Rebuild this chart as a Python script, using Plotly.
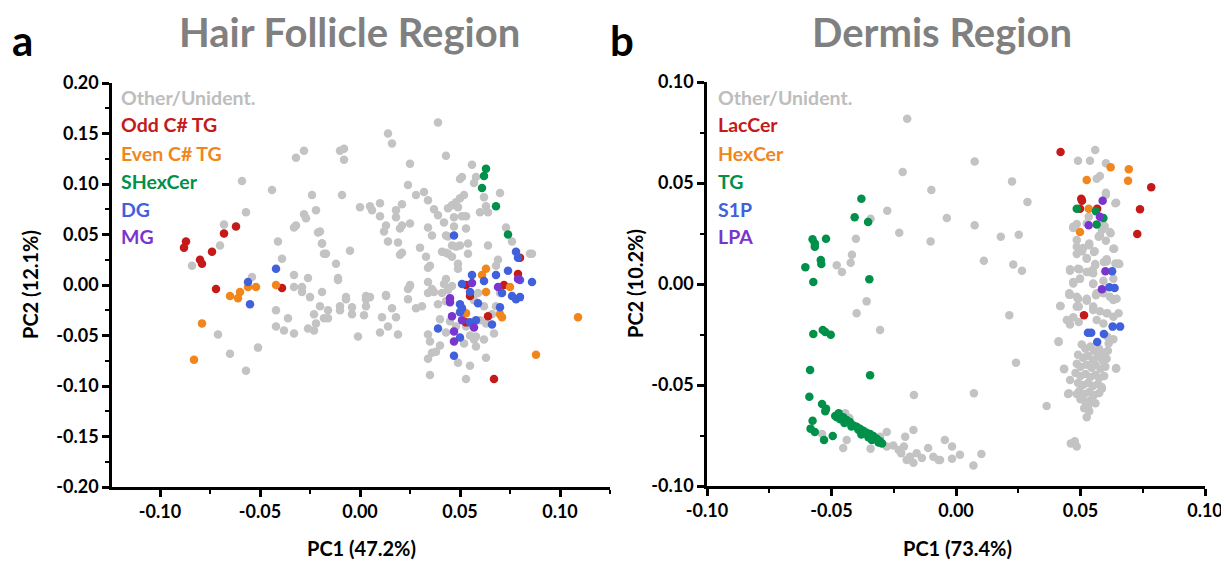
import plotly.graph_objects as go

# ---------------- Panel a : Hair Follicle Region ----------------
hf_other_x = [-0.028,-0.032,-0.059,-0.044,-0.024,-0.057,-0.028,-0.027,-0.022,-0.033,-0.032,-0.068,-0.021,-0.041,-0.019,-0.070,-0.017,-0.039,-0.084,-0.054,-0.033,-0.026,-0.033,-0.029,-0.025,-0.019,
              -0.071,-0.065,-0.057,-0.051,-0.042,-0.036,-0.042,-0.038,-0.033,-0.029,-0.020,-0.023,-0.018,-0.016,-0.026,-0.023,-0.022,-0.016,
              0.039,0.014,0.016,-0.010,-0.008,-0.008,0.043,0.025,0.056,0.058,0.057,0.051,0.050,0.070,0.024,-0.009,0.032,0.028,0.062,0.034,0.052,0.050,0.048,0.046,0.044,0.049,0.063,0.060,0.064,0.000,0.005,0.006,0.010,0.010,0.018,0.021,0.018,0.037,0.039,0.042,0.047,0.051,0.053,0.047,0.053,0.013,0.012,0.021,0.020,0.025,0.034,0.036,0.043,0.044,0.054,0.046,0.048,0.050,0.073,0.076,-0.020,-0.019,-0.018,-0.005,-0.012,-0.011,0.014,0.019,0.020,0.021,0.030,0.033,0.035,0.034,0.041,0.043,0.046,0.044,0.049,0.049,0.054,0.064,0.069,0.068,0.085,0.086,0.025,0.024,0.034,0.036,0.043,0.042,0.003,0.013,-0.007,
              -0.011,-0.010,-0.010,-0.007,-0.004,-0.004,-0.001,0.002,0.003,0.005,0.003,0.010,0.011,0.013,0.014,0.016,0.018,0.019,0.024,0.025,0.028,0.031,0.034,0.034,0.035,0.036,0.037,0.039,0.040,0.041,0.043,0.044,0.046,0.034,0.035,0.038,0.043,0.040,0.049,0.053,0.055,0.063,0.058,0.062,0.067,0.057,0.045,0.048,0.053,0.055,0.058,0.052,0.060,0.063,0.066,0.068,0.070,0.059,0.057,0.062]
hf_other_y = [0.133,0.126,0.103,0.094,0.089,0.072,0.070,0.066,0.074,0.057,0.059,0.060,0.052,0.043,0.041,0.039,0.031,0.026,0.019,0.008,0.010,0.007,-0.002,-0.007,-0.012,-0.007,
              -0.049,-0.068,-0.085,-0.062,-0.025,-0.033,-0.041,-0.045,-0.048,-0.002,-0.021,-0.029,-0.033,-0.033,-0.043,-0.045,-0.038,-0.025,
              0.161,0.150,0.140,0.133,0.135,0.124,0.128,0.120,0.119,0.107,0.101,0.107,0.105,0.091,0.099,0.089,0.092,0.089,0.087,0.084,0.089,0.086,0.082,0.079,0.076,0.077,0.078,0.072,0.072,0.077,0.078,0.074,0.081,0.068,0.074,0.080,0.067,0.075,0.069,0.062,0.067,0.068,0.068,0.058,0.056,0.059,0.053,0.059,0.056,0.061,0.057,0.049,0.049,0.048,0.041,0.039,0.038,0.039,0.057,0.043,0.053,0.041,0.031,0.034,0.021,0.007,0.043,0.042,0.030,0.032,0.037,0.028,0.019,0.017,0.033,0.032,0.028,0.031,0.021,0.016,0.031,0.039,0.025,0.019,0.031,0.031,0.000,-0.004,0.003,-0.004,0.006,0.001,-0.011,-0.011,-0.012,
              0.005,-0.021,-0.025,-0.014,-0.022,-0.029,-0.051,-0.030,-0.014,-0.012,-0.021,-0.047,-0.032,-0.010,-0.041,-0.023,-0.032,-0.049,-0.014,-0.001,-0.023,-0.021,-0.008,-0.049,-0.056,-0.067,-0.007,-0.019,-0.034,-0.008,-0.016,-0.005,-0.001,-0.073,-0.089,-0.066,-0.047,-0.060,-0.077,-0.093,-0.080,-0.072,-0.061,-0.054,-0.048,-0.054,-0.036,-0.041,-0.041,-0.050,-0.051,-0.058,-0.035,-0.038,-0.029,-0.021,-0.008,-0.008,-0.015,-0.021]

hf_odd_x = [-0.062,-0.068,-0.074,-0.080,-0.079,-0.087,-0.088,-0.072,-0.039,0.080,0.079,0.053,0.072,0.055,0.053,0.064,0.067]
hf_odd_y = [0.058,0.051,0.033,0.025,0.021,0.043,0.037,-0.004,-0.003,0.027,0.011,0.000,0.000,-0.011,-0.037,-0.031,-0.093]

hf_even_x = [-0.042,-0.052,-0.056,-0.060,-0.065,-0.061,-0.079,-0.083,0.063,0.061,0.075,0.063,0.053,0.070,0.071,0.088,0.109]
hf_even_y = [0.000,-0.002,-0.002,-0.007,-0.011,-0.013,-0.038,-0.074,0.016,0.010,-0.002,-0.007,-0.028,-0.029,-0.032,-0.069,-0.032]

hf_shex_x = [0.063,0.062,0.061,0.068,0.074]
hf_shex_y = [0.115,0.108,0.096,0.078,0.050]

hf_dg_x = [-0.056,-0.042,-0.055,0.047,0.078,0.079,0.056,0.068,0.074,0.080,0.086,0.062,0.051,0.071,0.076,0.080,0.055,0.039,0.047,0.050,0.050,0.051,0.050,0.055,0.058,0.059,0.066,0.070,0.078]
hf_dg_y = [0.003,0.016,-0.019,0.049,0.033,0.027,0.010,0.010,0.014,0.005,0.003,0.004,0.001,-0.008,-0.011,-0.012,-0.007,-0.043,-0.070,-0.052,-0.019,-0.023,-0.027,-0.037,-0.035,-0.018,-0.039,-0.022,-0.014]

hf_mg_x = [0.079,0.056,0.069,0.045,0.047,0.047,0.046,0.045,0.051,0.057]
hf_mg_y = [0.006,0.002,-0.002,-0.013,-0.056,-0.046,-0.031,-0.017,-0.035,-0.042]

# ---------------- Panel b : Dermis Region ----------------
dm_other_x = [-0.0196,-0.0214,-0.0099,-0.0276,-0.0343,-0.0228,-0.0102,-0.0402,-0.0418,-0.0423,-0.0479,-0.0458,
              -0.0359,-0.0399,-0.0305,-0.0538,-0.0453,-0.0439,-0.0445,-0.0428,-0.0343,-0.0278,-0.0305,
              -0.0278,-0.0252,-0.0230,-0.0209,-0.0204,-0.0185,-0.0171,-0.0171,-0.0169,-0.0158,-0.0137,-0.0112,-0.0091,-0.0070,-0.0220,-0.0198,
              -0.0045,-0.0016,0.0016,-0.0016,0.0070,0.0102,-0.0064,0.0072,0.0214,0.0241,0.0364,0.0461,0.0477,0.0485,
              0.0559,0.0490,0.0538,0.0602,0.0565,0.0578,0.0602,0.0643,0.0075,0.0225,0.0287,-0.0037,0.0075,0.0180,0.0252,0.0112,0.0230,0.0265,
              0.0471,0.0485,0.0533,0.0589,0.0578,0.0621,0.0602,0.0632,0.0485,0.0511,0.0535,0.0485,0.0554,0.0525,0.0605,0.0656,0.0559,0.0458,0.0490,0.0525,0.0551,0.0594,0.0632,0.0471,0.0498,0.0551,0.0592,0.0455,0.0485,0.0525,0.0565,
              0.0420,0.0458,0.0412,0.0434,0.0458,0.0453,0.0530,0.0643,0.0640,
              0.0458,0.0495,0.0471,0.0498,0.0533,0.0549,0.0559,0.0605,0.0653,0.0455,0.0490,0.0525,0.0551,0.0562,0.0592,0.0618,0.0645,0.0485,0.0551,0.0578,0.0608,0.0632,0.0471,0.0493,0.0565,0.0592,0.0608,0.0632,0.0613,
              0.0471,0.0525,0.0586,0.0602,0.0640,0.0525,0.0605,0.0557,0.0635,0.0506,0.0485,0.0535,0.0573,0.0618,0.0597,
              0.0505,0.0520,0.0540,0.0555,0.0575,0.0595,0.0610,0.0490,0.0510,0.0530,0.0550,0.0570,0.0590,0.0605,0.0485,0.0500,0.0525,0.0545,0.0560,0.0580,0.0600,0.0480,0.0500,0.0520,0.0540,0.0560,0.0575,0.0595,0.0490,0.0510,0.0530,0.0550,0.0570,0.0585,0.0495,0.0515,0.0535,0.0555,0.0575,0.0500,0.0520,0.0540,0.0560,0.0515,0.0535,0.0525,
              0.0445,0.0418,0.0412,0.0434,0.0450,0.0485,0.0530,0.0586,0.0643,0.0493,0.0525,0.0632,0.0653,0.0605,0.0551,0.0458,0.0490]
dm_other_y = [0.0818,0.0554,0.0465,0.0363,0.0323,0.0254,0.0211,0.0224,0.0145,0.0105,0.0093,0.0059,
              -0.0086,-0.0145,-0.0228,-0.0743,-0.0812,-0.0772,-0.0640,-0.0663,-0.0815,-0.0733,-0.0756,
              -0.0805,-0.0799,-0.0822,-0.0805,-0.0756,-0.0855,-0.0885,-0.0723,-0.0550,-0.0838,-0.0861,-0.0812,-0.0855,-0.0871,-0.0838,-0.0871,
              -0.0772,-0.0805,-0.0845,-0.0865,-0.0898,-0.0842,-0.0871,-0.0541,-0.0155,-0.0390,-0.0604,-0.0789,-0.0779,-0.0805,
              0.0663,0.0610,0.0610,0.0598,0.0521,0.0535,0.0452,0.0402,0.0607,0.0508,0.0406,0.0327,0.0291,0.0234,0.0244,0.0115,0.0096,0.0066,
              0.0277,0.0297,0.0333,0.0300,0.0241,0.0251,0.0214,0.0175,0.0185,0.0178,0.0192,0.0149,0.0158,0.0129,0.0119,0.0099,0.0099,0.0066,0.0076,0.0059,0.0053,0.0109,0.0026,0.0010,0.0026,0.0003,0.0016,-0.0046,-0.0063,-0.0073,-0.0046,
              -0.0109,-0.0201,-0.0287,-0.0419,-0.0475,-0.0541,-0.0607,-0.0419,0.0102,
              0.0073,0.0073,0.0003,0.0026,0.0059,0.0069,0.0093,0.0112,0.0102,-0.0053,-0.0073,-0.0079,0.0000,-0.0056,-0.0046,-0.0063,-0.0073,-0.0112,-0.0112,-0.0135,-0.0145,-0.0162,-0.0165,-0.0188,-0.0178,-0.0195,-0.0261,-0.0274,-0.0294,
              0.0284,0.0300,0.0267,0.0442,0.0400,0.0125,0.0122,0.0162,0.0175,0.0162,0.0218,0.0201,0.0234,0.0257,0.0287,
              -0.0300,-0.0320,-0.0310,-0.0330,-0.0320,-0.0340,-0.0330,-0.0350,-0.0365,-0.0355,-0.0375,-0.0360,-0.0380,-0.0370,-0.0395,-0.0410,-0.0400,-0.0415,-0.0400,-0.0420,-0.0410,-0.0440,-0.0455,-0.0445,-0.0460,-0.0450,-0.0465,-0.0455,-0.0490,-0.0500,-0.0490,-0.0505,-0.0495,-0.0510,-0.0530,-0.0545,-0.0535,-0.0550,-0.0540,-0.0570,-0.0585,-0.0575,-0.0590,-0.0615,-0.0630,-0.0660,
              -0.0178,-0.0109,-0.0284,-0.0422,-0.0545,-0.0545,-0.0604,-0.0518,-0.0416,-0.0112,-0.0083,-0.0079,-0.0145,-0.0145,-0.0129,-0.0053,-0.0073]

dm_lac_x = [0.0420,0.0784,0.0503,0.0506,0.0498,0.0567,0.0739,0.0728,0.0514]
dm_lac_y = [0.0653,0.0479,0.0422,0.0412,0.0373,0.0373,0.0370,0.0248,-0.0155]

dm_hex_x = [0.0621,0.0694,0.0691,0.0525,0.0533,0.0498]
dm_hex_y = [0.0578,0.0568,0.0511,0.0515,0.0373,0.0257]

dm_tg_x = [-0.0380,-0.0407,-0.0353,-0.0576,-0.0567,-0.0567,-0.0522,-0.0543,-0.0541,-0.0605,-0.0573,-0.0348,
           -0.0573,-0.0535,-0.0525,-0.0503,-0.0586,-0.0345,-0.0589,-0.0538,-0.0522,-0.0525,-0.0576,-0.0584,-0.0567,-0.0530,-0.0495,
           -0.0485,-0.0471,-0.0453,-0.0439,-0.0426,-0.0412,-0.0399,-0.0386,-0.0372,-0.0359,-0.0345,-0.0332,-0.0318,-0.0305,-0.0297,
           -0.0465,-0.0448,-0.0420,-0.0392,-0.0380,-0.0352,-0.0338,-0.0311,-0.0478,
           0.0485,0.0562,0.0592,0.0565]
dm_tg_y = [0.0422,0.0330,0.0307,0.0221,0.0201,0.0185,0.0224,0.0119,0.0099,0.0083,0.0010,0.0023,
           -0.0248,-0.0228,-0.0238,-0.0251,-0.0426,-0.0452,-0.0558,-0.0594,-0.0617,-0.0630,-0.0677,-0.0716,-0.0733,-0.0772,-0.0752,
           -0.0653,-0.0640,-0.0660,-0.0673,-0.0683,-0.0700,-0.0707,-0.0717,-0.0726,-0.0736,-0.0743,-0.0752,-0.0766,-0.0779,-0.0789,
           -0.0670,-0.0688,-0.0705,-0.0722,-0.0745,-0.0758,-0.0772,-0.0785,-0.0660,
           0.0373,0.0360,0.0327,0.0294]

dm_s1p_x = [0.0627,0.0616,0.0637,0.0530,0.0543,0.0594,0.0567,0.0629,0.0659]
dm_s1p_y = [0.0063,-0.0016,-0.0020,-0.0241,-0.0241,-0.0248,-0.0287,-0.0211,-0.0211]

dm_lpa_x = [0.0589,0.0578,0.0533,0.0600,0.0586]
dm_lpa_y = [0.0412,0.0333,0.0291,0.0063,-0.0026]

# ---------------- labels ----------------
hf_names = ["Other/Unident.", "Odd C# TG", "Even C# TG", "SHexCer", "DG", "MG"]
dm_names = ["Other/Unident.", "LacCer", "HexCer", "TG", "S1P", "LPA"]
colors = ["#c3c3c3", "#c41a1a", "#f0861c", "#00904a", "#4060dc", "#7a35cf"]
text_colors = ["#bdbdbd", "#c41a1a", "#f0861c", "#00904a", "#4060dc", "#7a35cf"]

hf_xticks = [-0.10, -0.05, 0.00, 0.05, 0.10]
hf_xtext = ["-0.10", "-0.05", "0.00", "0.05", "0.10"]
hf_yticks = [-0.20, -0.15, -0.10, -0.05, 0.00, 0.05, 0.10, 0.15, 0.20]
hf_ytext = ["-0.20", "-0.15", "-0.10", "-0.05", "0.00", "0.05", "0.10", "0.15", "0.20"]
dm_xticks = [-0.10, -0.05, 0.00, 0.05, 0.10]
dm_xtext = ["-0.10", "-0.05", "0.00", "0.05", "0.10"]
dm_yticks = [-0.10, -0.05, 0.00, 0.05, 0.10]
dm_ytext = ["-0.10", "-0.05", "0.00", "0.05", "0.10"]

FONT = "Lato"
OFF = 8                      # page body margin of the html page
W, H = 1229 - OFF, 561 - OFF

fig = go.Figure()

hf_sets = [(hf_other_x, hf_other_y), (hf_odd_x, hf_odd_y), (hf_even_x, hf_even_y),
           (hf_shex_x, hf_shex_y), (hf_dg_x, hf_dg_y), (hf_mg_x, hf_mg_y)]
dm_sets = [(dm_other_x, dm_other_y), (dm_lac_x, dm_lac_y), (dm_hex_x, dm_hex_y),
           (dm_tg_x, dm_tg_y), (dm_s1p_x, dm_s1p_y), (dm_lpa_x, dm_lpa_y)]

for (xs, ys), name, c in zip(hf_sets, hf_names, colors):
    fig.add_trace(go.Scatter(x=xs, y=ys, mode="markers", name=name, showlegend=False,
                             marker=dict(size=8.5, color=c, line=dict(width=0)),
                             xaxis="x", yaxis="y"))
for (xs, ys), name, c in zip(dm_sets, dm_names, colors):
    fig.add_trace(go.Scatter(x=xs, y=ys, mode="markers", name=name, showlegend=False,
                             marker=dict(size=8.5, color=c, line=dict(width=0)),
                             xaxis="x2", yaxis="y2"))

def px_x(p):
    return (p - OFF) / W

def px_y(p):
    return 1 - (p - OFF) / H

tickfont = dict(family=FONT, size=18, color="black", weight="bold")
axis_common = dict(showline=True, linecolor="black", linewidth=2.5, showgrid=False, zeroline=False,
                   ticks="outside", ticklen=7, tickwidth=2.5, tickcolor="black", tickfont=tickfont,
                   automargin=False)

def minor(d):
    return dict(ticks="outside", ticklen=4, tickwidth=2, tickcolor="black", dtick=d, tick0=0, showgrid=False)

fig.update_layout(
    width=W, height=H, paper_bgcolor="white", plot_bgcolor="white",
    margin=dict(l=0, r=0, t=0, b=0, pad=0),
    xaxis=dict(domain=[px_x(112), px_x(610)], range=[-0.124, 0.125], anchor="y",
               tickvals=hf_xticks, ticktext=hf_xtext, minor=minor(0.025), **axis_common),
    yaxis=dict(domain=[px_y(487), px_y(83)], range=[-0.2, 0.2], anchor="x",
               tickvals=hf_yticks, ticktext=hf_ytext, minor=minor(0.025), **axis_common),
    xaxis2=dict(domain=[px_x(707), px_x(1205)], range=[-0.1, 0.1], anchor="y2",
                tickvals=dm_xticks, ticktext=dm_xtext, minor=minor(0.025), **axis_common),
    yaxis2=dict(domain=[px_y(486), px_y(82)], range=[-0.1, 0.1], anchor="x2",
                tickvals=dm_yticks, ticktext=dm_ytext, minor=minor(0.025), **axis_common),
)

ann = []
# panel letters and titles
ann.append(dict(text="a", x=px_x(22), y=px_y(40), xanchor="center", yanchor="middle",
                font=dict(family=FONT, size=42, color="black", weight="bold")))
ann.append(dict(text="b", x=px_x(622), y=px_y(40), xanchor="center", yanchor="middle",
                font=dict(family=FONT, size=42, color="black", weight="bold")))
ann.append(dict(text="Hair Follicle Region", x=px_x(349), y=px_y(32), xanchor="center", yanchor="middle",
                font=dict(family=FONT, size=40, color="#808080", weight="bold")))
ann.append(dict(text="Dermis Region", x=px_x(942), y=px_y(32), xanchor="center", yanchor="middle",
                font=dict(family=FONT, size=40, color="#808080", weight="bold")))
# axis titles
axt = dict(family=FONT, size=20, color="black", weight="bold")
ann.append(dict(text="PC1 (47.2%)", x=px_x(361), y=px_y(548), xanchor="center", yanchor="middle", font=axt))
ann.append(dict(text="PC1 (73.4%)", x=px_x(957), y=px_y(548), xanchor="center", yanchor="middle", font=axt))
ann.append(dict(text="PC2 (12.1%)", x=px_x(30), y=px_y(285), xanchor="center", yanchor="middle", textangle=-90, font=axt))
ann.append(dict(text="PC2 (10.2%)", x=px_x(635), y=px_y(284), xanchor="center", yanchor="middle", textangle=-90, font=axt))
# category labels (legend text)
for i, (n, c) in enumerate(zip(hf_names, text_colors)):
    ann.append(dict(text=n, x=px_x(119), y=px_y(97 + 28 * i), xanchor="left", yanchor="middle",
                    font=dict(family=FONT, size=19.5, color=c, weight="bold")))
for i, (n, c) in enumerate(zip(dm_names, text_colors)):
    ann.append(dict(text=n, x=px_x(716), y=px_y(97 + 28 * i), xanchor="left", yanchor="middle",
                    font=dict(family=FONT, size=19.5, color=c, weight="bold")))
for a in ann:
    a.update(xref="paper", yref="paper", showarrow=False)
fig.update_layout(annotations=ann)

fig.write_html("out.html")
